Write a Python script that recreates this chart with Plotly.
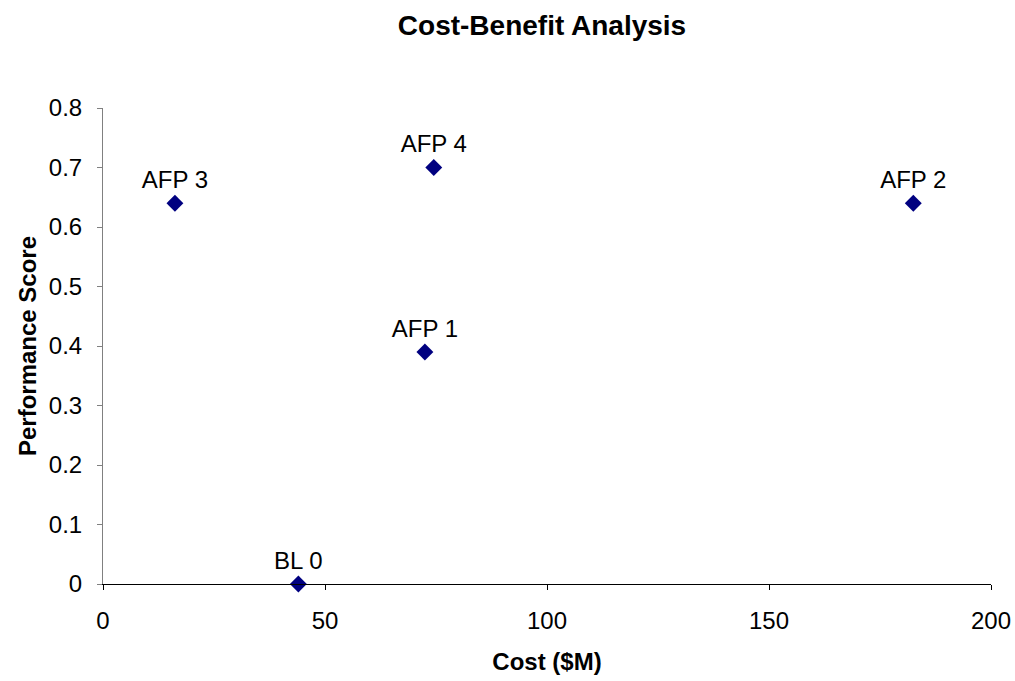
import plotly.graph_objects as go

# Alternatives: cost in $M vs. performance score
labels = ["BL 0", "AFP 1", "AFP 2", "AFP 3", "AFP 4"]
cost = [44, 72.5, 182.5, 16.2, 74.5]
performance = [0.0, 0.39, 0.64, 0.64, 0.70]

x_ticks = [0, 50, 100, 150, 200]
y_ticks = [0, 0.1, 0.2, 0.3, 0.4, 0.5, 0.6, 0.7, 0.8]

font_family = "Liberation Sans, Arial, sans-serif"

fig = go.Figure(
    go.Scatter(
        x=cost,
        y=performance,
        mode="markers+text",
        text=labels,
        textposition="top center",
        textfont=dict(family=font_family, size=24, color="black"),
        marker=dict(symbol="diamond", size=13, color="#000080"),
        cliponaxis=False,
        showlegend=False,
    )
)

fig.update_layout(
    width=1015,
    height=681,
    margin=dict(l=103, r=24, t=108, b=97),
    paper_bgcolor="white",
    plot_bgcolor="white",
    font=dict(family=font_family, size=24, color="black"),
    title=dict(
        text="<b>Cost-Benefit Analysis</b>",
        x=542 / 1015,
        xanchor="center",
        xref="container",
        y=1 - 25 / 681,
        yref="container",
        yanchor="middle",
        font=dict(family=font_family, size=28, color="black"),
    ),
    xaxis=dict(
        range=[0, 200],
        tickvals=x_ticks,
        ticks="outside",
        ticklen=5,
        tickcolor="black",
        showline=True,
        linecolor="black",
        linewidth=1,
        showgrid=False,
        zeroline=False,
        automargin=False,
        ticklabelstandoff=10,
        title=dict(
            text="<b>Cost ($M)</b>",
            font=dict(family=font_family, size=24, color="black"),
            standoff=20,
        ),
    ),
    yaxis=dict(
        range=[0, 0.8],
        tickvals=y_ticks,
        ticktext=[f"{v:g}" for v in y_ticks],
        ticks="outside",
        ticklen=5,
        tickcolor="#808080",
        showline=True,
        linecolor="#808080",
        linewidth=1,
        showgrid=False,
        zeroline=False,
        automargin=False,
        ticklabelstandoff=10,
        title=dict(
            text="<b>Performance Score</b>",
            font=dict(family=font_family, size=24, color="black"),
            standoff=5,
        ),
    ),
)

fig.write_html("out.html")
